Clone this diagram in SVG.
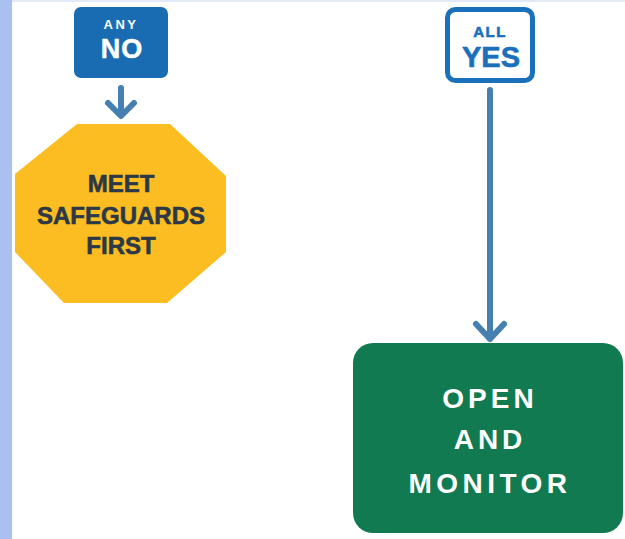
<svg xmlns="http://www.w3.org/2000/svg" width="625" height="539" viewBox="0 0 625 539">
<defs>
<style>
.t{font-family:"Liberation Sans",Arial,sans-serif;font-weight:bold;text-anchor:middle}
.w{fill:#ffffff}
.dk{fill:#2c3845;stroke:#2c3845;stroke-width:0.6}
.bl{fill:#1b70bb;stroke:#1b70bb;stroke-width:0.6}
.conn{stroke:#4580b0;stroke-width:6;fill:none;stroke-linecap:round;stroke-linejoin:round}
</style>
</defs>
<rect x="0" y="0" width="625" height="539" fill="#ffffff"/>
<rect x="0" y="0" width="12" height="539" fill="#a9c0f0"/>
<rect x="12" y="0" width="613" height="2" fill="#e2eaf8"/>
<g id="any-no">
<rect x="74" y="7" width="94" height="71" rx="7" fill="#1a6cb2"/>
<text class="t w" x="121" y="29" font-size="13" letter-spacing="2.5">ANY</text>
<text class="t w" x="122" y="58" font-size="27" letter-spacing="1" stroke="#ffffff" stroke-width="0.5">NO</text>
</g>
<g id="safeguards">
<polygon points="77,124 170,124 226,176 226,252 167,303 64,303 15,252 15,174" fill="#fbbd21"/>
<text class="t dk" x="121" y="192" font-size="24">MEET</text>
<text class="t dk" x="121" y="224" font-size="24">SAFEGUARDS</text>
<text class="t dk" x="121" y="254" font-size="24">FIRST</text>
</g>
<g id="all-yes">
<rect x="447.5" y="9.5" width="85" height="71" rx="8" fill="#ffffff" stroke="#1b70bb" stroke-width="5"/>
<text class="t bl" x="490" y="37" font-size="15" letter-spacing="1.5">ALL</text>
<text class="t bl" x="491" y="67" font-size="29">YES</text>
</g>
<g id="open-monitor">
<rect x="353" y="343" width="270" height="190" rx="20" fill="#117a50"/>
<text class="t w" x="490" y="408" font-size="28" letter-spacing="4">OPEN</text>
<text class="t w" x="490" y="449" font-size="28" letter-spacing="4">AND</text>
<text class="t w" x="490" y="493" font-size="28" letter-spacing="4.5">MONITOR</text>
</g>
<g id="connectors">
<path class="conn" d="M121 88 V115 M108 103 L121 116 L134 103"/>
<path class="conn" d="M490 90 V339 M476 324 L490 339 L504 324"/>
</g>
</svg>
